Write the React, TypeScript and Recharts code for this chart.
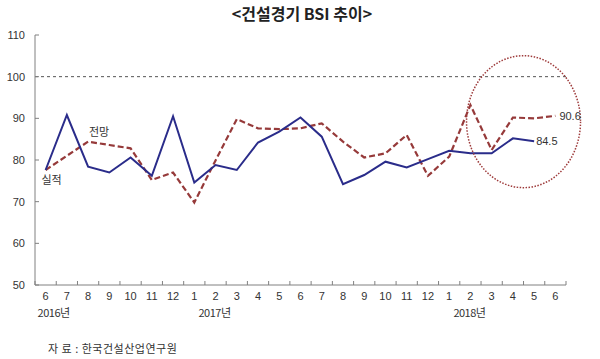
import { LineChart, Line, XAxis, YAxis, ReferenceLine, ReferenceDot } from 'recharts'

const months = ['6', '7', '8', '9', '10', '11', '12', '1', '2', '3', '4', '5', '6', '7', '8', '9', '10', '11', '12', '1', '2', '3', '4', '5', '6']
const yearLabels = ['2016년', '2017년', '2018년']
const yearIndex = [0, 8, 20]

// 실적 (actual) ends one month earlier than 전망 (forecast)
const actual = [77.6, 90.8, 78.4, 77.0, 80.6, 76.2, 90.5, 74.6, 78.8, 77.6, 84.2, 86.8, 90.2, 85.6, 74.2, 76.4, 79.6, 78.2, 80.2, 82.2, 81.6, 81.6, 85.2, 84.5, null]
const forecast = [77.6, 81.0, 84.4, 83.6, 82.8, 75.2, 77.0, 69.8, 79.9, 89.8, 87.6, 87.4, 87.6, 88.8, 84.4, 80.6, 81.6, 86.0, 76.2, 80.8, 93.2, 82.4, 90.2, 90.0, 90.6]
const yTicks = [50, 60, 70, 80, 90, 100, 110]

const data = months.map((m, i) => ({ key: i, month: m, actual: actual[i], forecast: forecast[i] }))

const W = 600
const H = 359
const LEFT = 35
const RIGHT = 34
const STEP = (W - LEFT - RIGHT) / months.length
const AXIS = '#808080'
const TXT = '#333'
const FONT = '"Liberation Sans", "Noto Sans CJK KR", sans-serif'
const KFONT = '"Noto Sans CJK KR", sans-serif'

const MonthTick = (props: any) => {
  const { x, y, payload } = props
  const i = payload.value
  const yi = yearIndex.indexOf(i)
  return (
    <g>
      {i === 0 && <line x1={x - STEP / 2} x2={x - STEP / 2} y1={y} y2={y - 4} stroke={AXIS} />}
      <line x1={x + STEP / 2} x2={x + STEP / 2} y1={y} y2={y - 4} stroke={AXIS} />
      <text x={x} y={y + 15} textAnchor="middle" fontSize={11} fill={TXT} fontFamily={FONT}>
        {months[i]}
      </text>
      {yi >= 0 && (
        <text x={x + (i === 0 ? 8 : -1)} y={y + 32} textAnchor="middle" fontSize={11} fill={TXT} fontFamily={KFONT} letterSpacing={-0.5}>
          {yearLabels[yi]}
        </text>
      )}
    </g>
  )
}

const ValueTick = (props: any) => {
  const { x, y, payload } = props
  return (
    <g>
      <line x1={x} x2={x + 4} y1={y} y2={y} stroke={AXIS} />
      <text x={x - 10} y={y + 4} textAnchor="end" fontSize={11} fill={TXT} fontFamily={FONT}>
        {payload.value}
      </text>
    </g>
  )
}

const actualLabel = (props: any) => {
  const { x, y, index } = props
  if (index === 0) {
    return (
      <text x={x + 6} y={y + 14} textAnchor="middle" fontSize={11} fill={TXT} fontFamily={KFONT}>
        실적
      </text>
    )
  }
  if (index === 23) {
    return (
      <text x={x + 2} y={y + 4} textAnchor="start" fontSize={11} fill={TXT} fontFamily={FONT}>
        84.5
      </text>
    )
  }
  return null
}

const forecastLabel = (props: any) => {
  const { x, y, index } = props
  if (index === 2) {
    return (
      <text x={x + 11} y={y - 6} textAnchor="middle" fontSize={11} fill={TXT} fontFamily={KFONT}>
        전망
      </text>
    )
  }
  if (index === 24) {
    return (
      <text x={x + 4} y={y + 4} textAnchor="start" fontSize={11} fill={TXT} fontFamily={FONT}>
        90.6
      </text>
    )
  }
  return null
}

const Ellipse = (props: any) => (
  <ellipse cx={props.cx + STEP / 2} cy={props.cy} rx={57} ry={66} fill="none" stroke="#9e3b3b" strokeWidth={1.5} strokeDasharray="1.5 1.5" />
)

export default function App() {
  return (
    <div style={{ position: 'absolute', left: 0, top: 0, width: W, height: H, background: '#fff' }}>
      <div style={{ position: 'absolute', top: 1, left: 2, width: W, textAlign: 'center', fontFamily: KFONT, fontWeight: 700, fontSize: 16, color: '#222' }}>
        &lt;건설경기 BSI 추이&gt;
      </div>
      <LineChart width={W} height={H} data={data} margin={{ top: 35, right: RIGHT, bottom: 14, left: 0 }}>
        <XAxis
          dataKey="key"
          type="category"
          interval={0}
          height={60}
          tickLine={false}
          tickSize={0}
          tickMargin={0}
          padding={{ left: STEP / 2, right: STEP / 2 }}
          axisLine={{ stroke: AXIS }}
          tick={<MonthTick />}
        />
        <YAxis
          width={LEFT}
          domain={[50, 110]}
          ticks={yTicks}
          interval={0}
          tickLine={false}
          tickSize={0}
          tickMargin={0}
          axisLine={{ stroke: AXIS }}
          tick={<ValueTick />}
        />
        <ReferenceLine y={100} stroke="#555" strokeDasharray="3 3" />
        <Line
          dataKey="forecast"
          stroke="#963a3a"
          strokeWidth={2.2}
          strokeDasharray="6 3"
          dot={false}
          isAnimationActive={false}
          label={forecastLabel}
        />
        <Line
          dataKey="actual"
          stroke="#2a2c8a"
          strokeWidth={2}
          dot={false}
          isAnimationActive={false}
          label={actualLabel}
        />
        <ReferenceDot x={22} y={89.2} r={1} shape={Ellipse} />
      </LineChart>
      <div style={{ position: 'absolute', top: 340, left: 48, fontFamily: KFONT, fontSize: 11, color: '#333', letterSpacing: 0.5 }}>
        자 료 : 한국건설산업연구원
      </div>
    </div>
  )
}
